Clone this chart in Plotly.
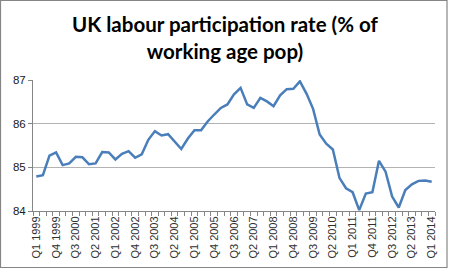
import plotly.graph_objects as go

quarters = [f"Q{q} {y}" for y in range(1999, 2015) for q in range(1, 5)][:61]

rate = [84.79, 84.82, 85.27, 85.34, 85.05, 85.09, 85.24, 85.23, 85.07, 85.09,
        85.35, 85.34, 85.18, 85.31, 85.37, 85.22, 85.30, 85.63, 85.83, 85.73,
        85.76, 85.60, 85.42, 85.66, 85.85, 85.85, 86.05, 86.21, 86.36, 86.44,
        86.67, 86.82, 86.44, 86.36, 86.59, 86.51, 86.40, 86.65, 86.79, 86.80,
        86.97, 86.69, 86.34, 85.75, 85.54, 85.41, 84.76, 84.52, 84.43, 84.02,
        84.40, 84.43, 85.15, 84.90, 84.33, 84.08, 84.48, 84.61, 84.69, 84.70,
        84.67]

title_text = "UK labour participation rate (% of<br>working age pop)"
y_ticks = [84, 85, 86, 87]

idx = list(range(len(quarters)))
label_idx = idx[::3]

fig = go.Figure()
fig.add_trace(go.Scatter(x=idx, y=rate, mode="lines",
                         line=dict(color="#4a7ebb", width=2.5),
                         hoverinfo="skip"))

L, R, T, B = 33, 14, 80, 59
W, H = 449, 270
pw, ph = W - L - R, H - T - B

fig.update_layout(
    width=W, height=H,
    margin=dict(l=L, r=R, t=T, b=B),
    paper_bgcolor="white", plot_bgcolor="white",
    showlegend=False,
    xaxis=dict(range=[-0.5, len(quarters) - 0.5],
               tickvals=label_idx, ticktext=[quarters[i] for i in label_idx],
               tickangle=-90, ticks="", showgrid=False, zeroline=False,
               showline=True, linecolor="#868686", linewidth=1,
               tickfont=dict(family="Liberation Sans", size=11, color="#303030"),
               minor=dict(tick0=-0.5, dtick=1, ticks="outside", ticklen=4,
                          tickcolor="#868686", showgrid=False)),
    yaxis=dict(range=[84, 87], tickvals=y_ticks, ticks="outside", ticklen=4,
               tickcolor="#868686", showgrid=True, gridcolor="#b3b3b3",
               gridwidth=1, zeroline=False, showline=True,
               linecolor="#868686", linewidth=1,
               tickfont=dict(family="Liberation Sans", size=11.5, color="#202020")),
)

fig.add_annotation(text="<b>" + title_text + "</b>", xref="paper", yref="paper",
                   x=(225 - L) / pw, xanchor="center",
                   y=1 + (T - 10) / ph, yanchor="top", showarrow=False,
                   font=dict(family="Lato", size=20.5, color="black"))

fig.add_shape(type="rect", xref="paper", yref="paper", layer="above",
              x0=(0.5 - L) / pw, x1=(W - 2 - L) / pw,
              y0=-(B - 2.5) / ph, y1=1 + (T - 0.5) / ph,
              line=dict(color="#868686", width=1.2))

fig.write_html("out.html")
